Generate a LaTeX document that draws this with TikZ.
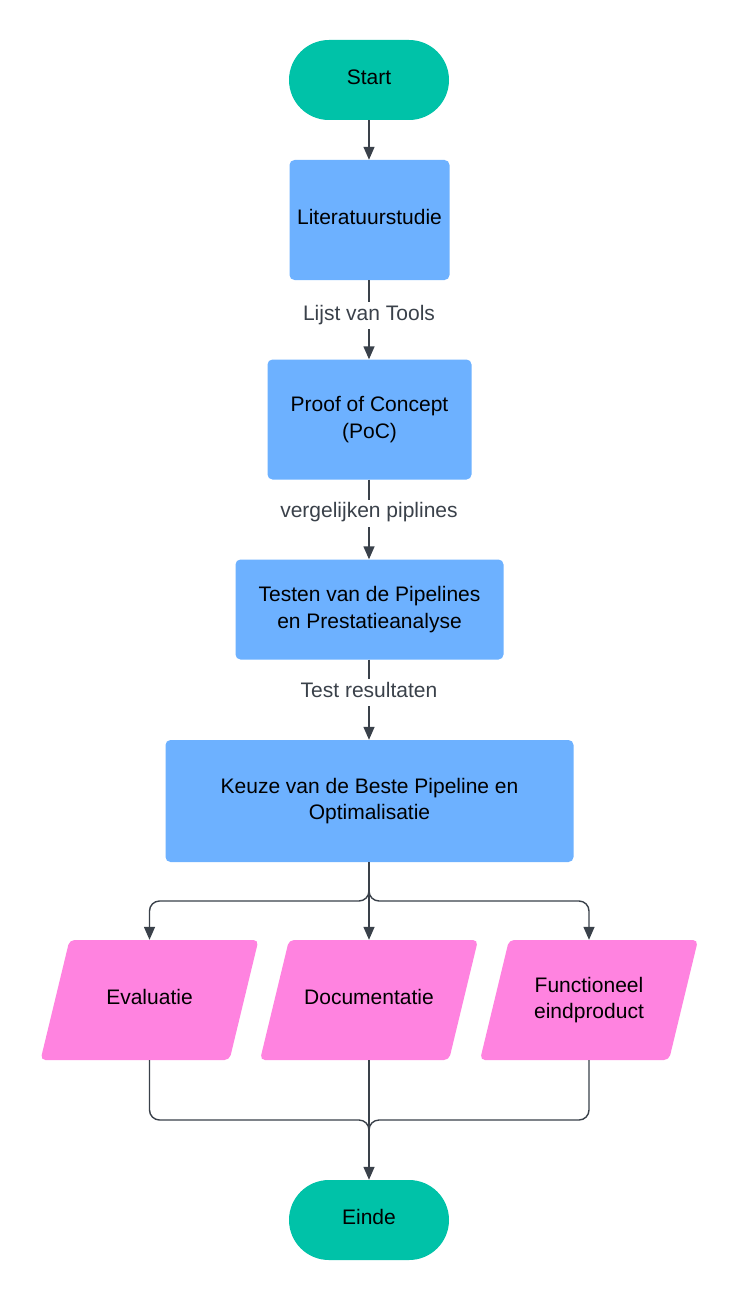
\documentclass[tikz,border=0pt]{standalone}
\usepackage{fontspec}
\setmainfont{Liberation Sans}
\usetikzlibrary{arrows.meta,calc}
\definecolor{termfill}{HTML}{00C2A8}
\definecolor{procfill}{HTML}{6DB1FF}
\definecolor{iofill}{HTML}{FF83E0}
\definecolor{linecol}{HTML}{3A414A}
\begin{document}
\begin{tikzpicture}[x=1pt,y=-1pt,
  every node/.style={font=\fontsize{21}{26.5}\selectfont, text=black, align=center},
  oneline/.style={text height=15pt, text depth=6pt},
  term/.style={fill=termfill, rounded corners=40pt, minimum width=160pt, minimum height=80pt, inner sep=0pt, oneline},
  proc/.style={fill=procfill, rounded corners=5pt, inner sep=0pt},
  iohold/.style={minimum width=188pt, minimum height=120pt, inner sep=0pt},
  conn/.style={draw=linecol, line width=1.4pt},
  arr/.style={conn, -{Triangle[length=13pt,width=11pt]}},
  lbl/.style={fill=white, text=linecol, inner sep=3pt}]
\useasboundingbox[fill=white] (0,0) rectangle (740,1300);

\newcommand\iofillshape[1]{\fill[iofill, rounded corners=5pt]
  ($(#1)+(-109,60)$) -- ($(#1)+(80,60)$) -- ($(#1)+(109,-60)$) -- ($(#1)+(-80,-60)$) -- cycle;}

\node[term] (start) at (369,80) {Start};
\node[proc, oneline, minimum width=160pt, minimum height=120pt] (lit) at (369.5,220) {Literatuurstudie};
\node[proc, minimum width=204pt, minimum height=120pt] (poc) at (369.5,419.5) {Proof of Concept\\(PoC)};
\node[proc, minimum width=268pt, minimum height=100pt] (test) at (369.5,609.5) {Testen van de Pipelines\\en Prestatieanalyse};
\node[proc, minimum width=408pt, minimum height=122pt] (keuze) at (369.5,801) {Keuze van de Beste Pipeline en\\Optimalisatie};

\coordinate (evalc) at (149.5,1000);
\coordinate (docc) at (369,1000);
\coordinate (funcc) at (589,1000);
\iofillshape{evalc}
\iofillshape{docc}
\iofillshape{funcc}
\node[iohold, oneline] (eval) at (evalc) {Evaluatie};
\node[iohold, oneline] (doc) at (docc) {Documentatie};
\node[iohold] (func) at (funcc) {Functioneel\\eindproduct};

\node[term] (einde) at (369,1220) {Einde};

\coordinate (split) at (369,901);
\coordinate (merge) at (369,1120);

% main flow
\draw[arr] (start.south -| 369,0) -- (lit.north -| 369,0);
\draw[arr] (lit.south -| 369,0) -- (poc.north -| 369,0) node[lbl, oneline, pos=0.45] {Lijst van Tools};
\draw[arr] (poc.south -| 369,0) -- (test.north -| 369,0) node[lbl, oneline, pos=0.42] {vergelijken piplines};
\draw[arr] (test.south -| 369,0) -- (keuze.north -| 369,0) node[lbl, oneline, pos=0.41] {Test resultaten};

% branches
\draw[arr, rounded corners=10pt] (keuze.south -| 369,0) -- (split) -| (eval.north);
\draw[arr, rounded corners=10pt] (keuze.south -| 369,0) -- (split) -| (func.north);
\draw[arr] (keuze.south -| 369,0) -- (doc.north);

% merge
\draw[conn, rounded corners=10pt] (eval.south) |- (merge) -- ($(merge)+(0,12)$);
\draw[conn, rounded corners=10pt] (func.south) |- (merge) -- ($(merge)+(0,12)$);
\draw[arr] (doc.south) -- (einde.north);
\end{tikzpicture}
\end{document}
